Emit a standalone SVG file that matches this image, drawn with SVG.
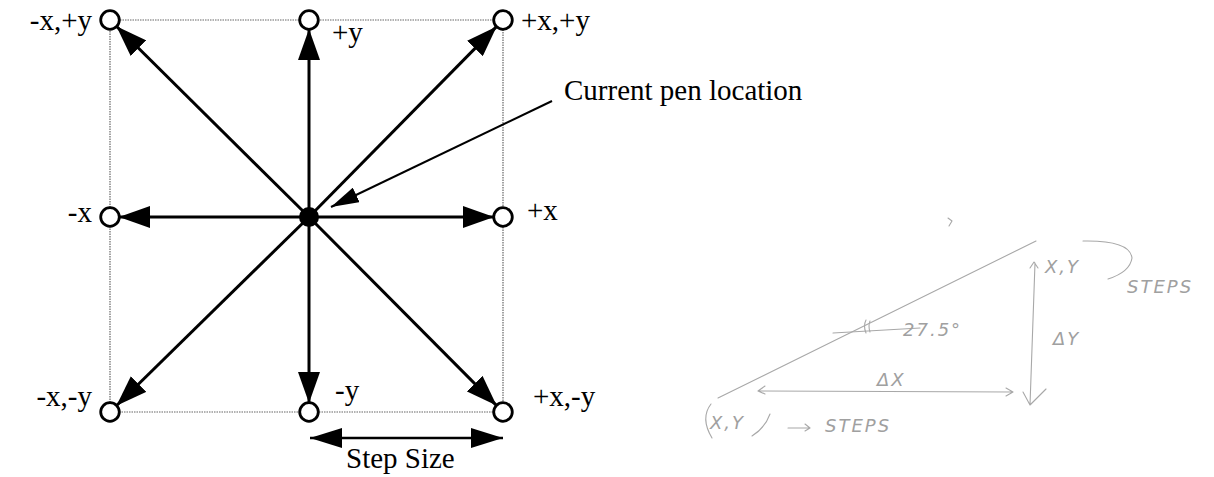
<svg xmlns="http://www.w3.org/2000/svg" width="1214" height="477" viewBox="0 0 1214 477">
<style>
.lbl{font-family:"Liberation Serif","Times New Roman",serif;font-size:29px;fill:#000}
.node{fill:#fff;stroke:#000;stroke-width:2.8}
.main{stroke:#000;stroke-width:3;fill:none}
.frame{fill:none;stroke:#666;stroke-width:1.2;stroke-dasharray:1.5 1}
.sk{fill:none;stroke:#a8a8a8;stroke-width:1.1;stroke-linecap:round;stroke-linejoin:round}
.skt{font-family:"DejaVu Sans",sans-serif;font-style:italic;font-size:18px;fill:#a0a0a0;font-weight:300;letter-spacing:2px}
</style>
<defs>
<marker id="ah" markerUnits="userSpaceOnUse" markerWidth="31" markerHeight="22" viewBox="0 0 31 22" refX="31" refY="11" orient="auto">
<path d="M0,0 L31,11 L0,22 z" fill="#000"/>
</marker>
<marker id="ah2" markerUnits="userSpaceOnUse" markerWidth="28" markerHeight="16" viewBox="0 0 28 16" refX="28" refY="8" orient="auto">
<path d="M0,0 L28,8 L0,16 z" fill="#000"/>
</marker>
<marker id="ahs" markerUnits="userSpaceOnUse" markerWidth="32" markerHeight="20" viewBox="0 0 32 20" refX="32" refY="10" orient="auto-start-reverse">
<path d="M0,0 L32,10 L0,20 z" fill="#000"/>
</marker>
</defs>
<rect class="frame" x="110" y="20" width="393" height="392"/>
<g id="connectors">
<line class="main" x1="309" y1="217" x2="309" y2="29" marker-end="url(#ah)"/>
<line class="main" x1="309" y1="217" x2="309" y2="403" marker-end="url(#ah)"/>
<line class="main" x1="309" y1="217" x2="119" y2="217" marker-end="url(#ah)"/>
<line class="main" x1="309" y1="217" x2="494" y2="217" marker-end="url(#ah)"/>
<line class="main" x1="309" y1="217" x2="116.4" y2="26.3" marker-end="url(#ah)"/>
<line class="main" x1="309" y1="217" x2="496.7" y2="26.4" marker-end="url(#ah)"/>
<line class="main" x1="309" y1="217" x2="116.4" y2="405.7" marker-end="url(#ah)"/>
<line class="main" x1="309" y1="217" x2="496.6" y2="405.6" marker-end="url(#ah)"/>
<line x1="552" y1="101" x2="331" y2="207" stroke="#000" stroke-width="2" marker-end="url(#ah2)"/>
<line x1="310" y1="438" x2="503" y2="438" stroke="#000" stroke-width="2.5" marker-start="url(#ahs)" marker-end="url(#ahs)"/>
</g>
<g id="center"><circle cx="309" cy="217" r="10" fill="#000"/></g>
<g id="n-tl"><circle class="node" cx="110" cy="20" r="9.3"/><text class="lbl" x="92" y="30" text-anchor="end">-x,+y</text></g>
<g id="n-t"><circle class="node" cx="309" cy="20" r="9.3"/><text class="lbl" x="332" y="42">+y</text></g>
<g id="n-tr"><circle class="node" cx="503" cy="20" r="9.3"/><text class="lbl" x="521" y="30">+x,+y</text></g>
<g id="n-l"><circle class="node" cx="110" cy="217" r="9.3"/><text class="lbl" x="92" y="222" text-anchor="end">-x</text></g>
<g id="n-r"><circle class="node" cx="503" cy="217" r="9.3"/><text class="lbl" x="527" y="220">+x</text></g>
<g id="n-bl"><circle class="node" cx="110" cy="412" r="9.3"/><text class="lbl" x="92" y="406" text-anchor="end">-x,-y</text></g>
<g id="n-b"><circle class="node" cx="309" cy="412" r="9.3"/><text class="lbl" x="335" y="400">-y</text></g>
<g id="n-br"><circle class="node" cx="503" cy="412" r="9.3"/><text class="lbl" x="533" y="406">+x,-y</text></g>
<g id="pen-label"><text class="lbl" x="564" y="100">Current pen location</text></g>
<g id="step-label"><text class="lbl" x="346" y="468">Step Size</text></g>
<g id="sketch">
<path class="sk" d="M718,398 L1036,241"/>
<path class="sk" d="M833,333 L920,328"/>
<path class="sk" d="M866,320 Q863,326 866,333 M870,321 Q868,326 870,332"/>
<text class="skt" x="903" y="336">27.5°</text>
<path class="sk" d="M758,391 L1013,392 M765,386 L758,391 L765,394 M1006,388 L1013,392 L1006,396"/>
<text class="skt" x="877" y="386">ΔX</text>
<path class="sk" d="M1035,263 L1030,405 M1023,392 L1030,405 L1046,389 M1030,268 L1034,262 L1038,268"/>
<text class="skt" x="1045" y="273">X,Y</text>
<path class="sk" d="M1083,241 Q1130,240 1132,258 Q1130,272 1108,279"/>
<text class="skt" x="1127" y="293">STEPS</text>
<text class="skt" x="1053" y="345">ΔY</text>
<path class="sk" d="M948,218 L952,221 L949,226"/>
<path class="sk" d="M711,404 Q700,418 712,438"/>
<text class="skt" x="710" y="429">X,Y</text>
<path class="sk" d="M770,414 Q765,428 752,436"/>
<path class="sk" d="M788,428 L810,428 M805,424 L810,428 L805,431"/>
<text class="skt" x="825" y="432">STEPS</text>
</g>
</svg>
